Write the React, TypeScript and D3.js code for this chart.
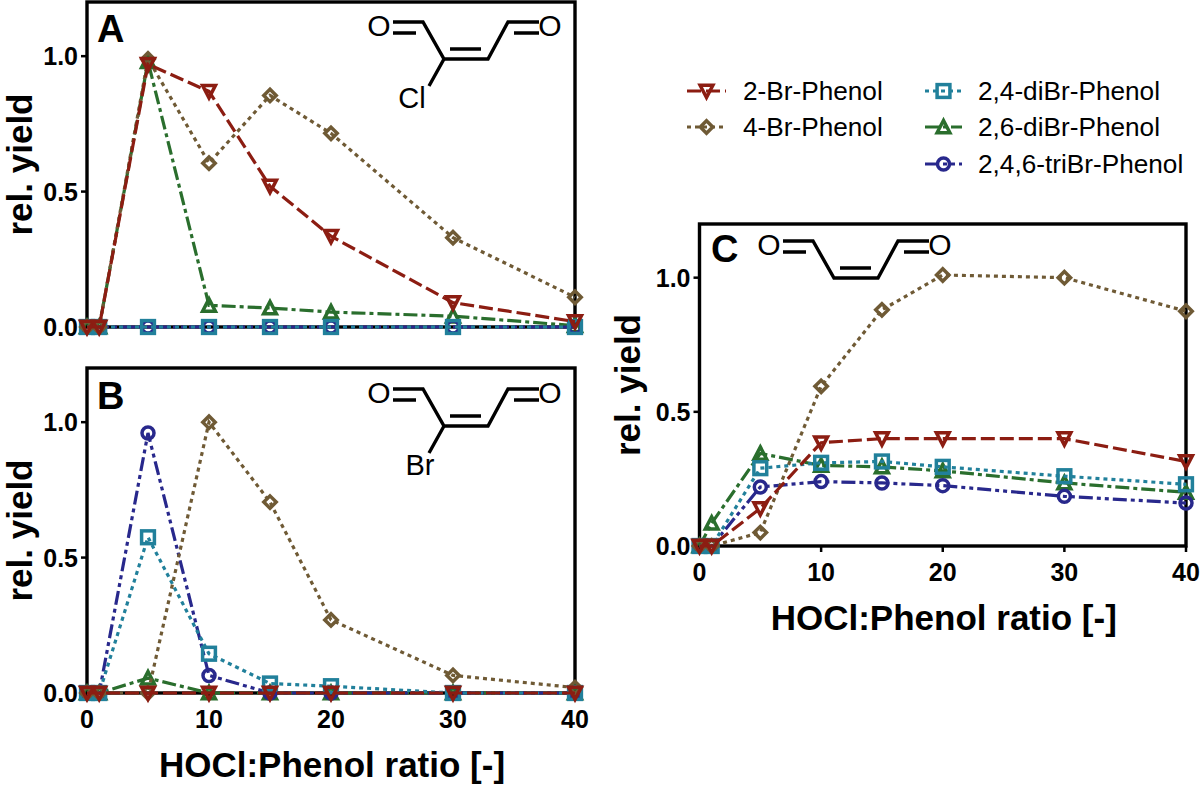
import React from "react";
import * as d3 from "d3";

const ratios = [0, 1, 5, 10, 15, 20, 30, 40];
const xTicks = [0, 10, 20, 30, 40];
const yTicks = [0, 0.5, 1];

const a2Br = [0, 0, 0.97, 0.87, 0.52, 0.335, 0.09, 0.02];
const a4Br = [0, 0, 0.99, 0.605, 0.855, 0.715, 0.33, 0.11];
const a24 = [0, 0, 0, 0, 0, 0, 0, 0];
const a26 = [0, 0, 0.98, 0.08, 0.07, 0.055, 0.04, 0.005];
const a246 = [0, 0, 0, 0, 0, 0, 0, 0];

const b2Br = [0, 0, 0, 0, 0, 0, 0, 0];
const b4Br = [0, 0, 0, 1, 0.705, 0.27, 0.065, 0.02];
const b24 = [0, 0, 0.575, 0.145, 0.035, 0.025, 0, 0];
const b26 = [0, 0, 0.055, 0, 0, 0, 0, 0];
const b246 = [0, 0, 0.96, 0.065, 0, 0, 0, 0];

const c2Br = [0, 0, 0.14, 0.385, 0.4, 0.4, 0.4, 0.315];
const c4Br = [0, 0, 0.05, 0.595, 0.88, 1.01, 1.0, 0.875];
const c24 = [0, 0, 0.29, 0.31, 0.315, 0.295, 0.26, 0.23];
const c26 = [0, 0.085, 0.345, 0.3, 0.295, 0.28, 0.235, 0.2];
const c246 = [0, 0, 0.22, 0.24, 0.235, 0.225, 0.185, 0.16];

type Key = "s2" | "s4" | "s24" | "s26" | "s246";
const STY: Record<Key, { name: string; color: string; dash: string; marker: string }> = {
  s2: { name: "2-Br-Phenol", color: "#8c1d12", dash: "14 5", marker: "tridown" },
  s4: { name: "4-Br-Phenol", color: "#6f5a35", dash: "4 4", marker: "diamond" },
  s24: { name: "2,4-diBr-Phenol", color: "#21809b", dash: "4 4", marker: "square" },
  s26: { name: "2,6-diBr-Phenol", color: "#2a6e2d", dash: "14 4 4 4", marker: "triup" },
  s246: { name: "2,4,6-triBr-Phenol", color: "#28288c", dash: "14 4 4 4 4 4", marker: "circle" },
};
const FONT = "'Liberation Sans', Arial, sans-serif";
const SW = 3.5;

function Marker({ kind, x, y, color }: { kind: string; x: number; y: number; color: string }) {
  const common = { fill: "none", stroke: color, strokeWidth: SW };
  const t = `translate(${x},${y})`;
  if (kind === "circle") return <circle cx={x} cy={y} r={6} {...common} />;
  if (kind === "square") return <rect x={x - 6.4} y={y - 6.4} width={12.8} height={12.8} {...common} />;
  if (kind === "diamond") return <path transform={t} d="M0,-6.2L6.2,0L0,6.2L-6.2,0Z" {...common} />;
  if (kind === "triup") return <path transform={t} d="M0,-6.5L6.4,5.8L-6.4,5.8Z" {...common} />;
  return <path transform={t} d="M-6.4,-5.8L6.4,-5.8L0,6.5Z" {...common} />;
}

function Panel({ left, right, top, zero, letter, lx, ly, xLabelY, series, children, order, ylx, showX }: any) {
  const x = d3.scaleLinear().domain([0, 40]).range([left, right]);
  const y = d3.scaleLinear().domain([0, 1.2]).range([zero, top]);
  const line = d3.line<number>().x((_, i) => x(ratios[i])).y((v) => y(v));
  return (
    <g>
      <rect x={left} y={top} width={right - left} height={zero - top} fill="none" stroke="#000" strokeWidth={3.4} />
      {showX && xTicks.map((t) => (
        <g key={t}>
          <line x1={x(t)} x2={x(t)} y1={zero} y2={zero + 6} stroke="#000" strokeWidth={2.5} />
          <text x={x(t)} y={zero + 35} textAnchor="middle" fontSize={25} fontWeight="bold" fontFamily={FONT}>{t}</text>
        </g>
      ))}
      {yTicks.map((t) => (
        <g key={t}>
          <line x1={left - 6} x2={left} y1={y(t)} y2={y(t)} stroke="#000" strokeWidth={2.5} />
          <text x={left - 9} y={y(t) + 9} textAnchor="end" fontSize={25} fontWeight="bold" fontFamily={FONT}>{t.toFixed(1)}</text>
        </g>
      ))}
      {order.map((k: Key) => (
        <g key={k}>
          <path d={line(series[k]) || ""} fill="none" stroke={STY[k].color} strokeWidth={3.2} strokeDasharray={STY[k].dash} />
          {series[k].map((v: number, i: number) => (
            <Marker key={i} kind={STY[k].marker} x={x(ratios[i])} y={y(v)} color={STY[k].color} />
          ))}
        </g>
      ))}
      {xLabelY != null && (
        <text x={(left + right) / 2 + 1} y={xLabelY} textAnchor="middle" fontSize={35} fontWeight="bold" fontFamily={FONT}>HOCl:Phenol ratio [-]</text>
      )}
      <text transform={`translate(${ylx},${y(0.6)}) rotate(-90)`} textAnchor="middle" fontSize={35} fontWeight="bold" fontFamily={FONT}>rel. yield</text>
      <text x={lx} y={ly} fontSize={38} fontWeight="bold" fontFamily={FONT}>{letter}</text>
      {children}
    </g>
  );
}

function Sub({ dx = 0, dy, label, lx }: { dx?: number; dy: number; label?: string; lx?: number }) {
  const s = { stroke: "#000", strokeWidth: 3.4, fill: "none", strokeLinejoin: "miter" as const };
  return (
    <g transform={`translate(${dx},${dy})`}>
      <path d="M393,22H423L444,59H488L508,22H539" {...s} />
      <path d={`M393,33H416M450,49H481M514,33H539${label ? "M444,59L429,86" : ""}`} {...s} />
      <text x={379} y={36} textAnchor="middle" fontSize={30} fontFamily={FONT}>O</text>
      <text x={550} y={36} textAnchor="middle" fontSize={30} fontFamily={FONT}>O</text>
      {label && <text x={lx} y={108} textAnchor="middle" fontSize={29} fontFamily={FONT}>{label}</text>}
    </g>
  );
}

export default function App() {
  const order: Key[] = ["s26", "s246", "s24", "s4", "s2"];
  const cols: { key: Key; hx: number; hw: number; tx: number; y: number }[] = [
    { key: "s2", hx: 687, hw: 39, tx: 743, y: 91 },
    { key: "s4", hx: 687, hw: 39, tx: 743, y: 127 },
    { key: "s24", hx: 925, hw: 37, tx: 978, y: 91 },
    { key: "s26", hx: 925, hw: 37, tx: 978, y: 127 },
    { key: "s246", hx: 925, hw: 37, tx: 978, y: 164 },
  ];
  return (
    <svg width={1200} height={785} style={{ position: "absolute", left: 0, top: 0, background: "#fff" }}>
      <Panel left={87} right={575} top={2} zero={327} letter="A" lx={97} ly={42} ylx={32} order={order}
        series={{ s2: a2Br, s4: a4Br, s24: a24, s26: a26, s246: a246 }}>
        <Sub dy={0} label="Cl" lx={412} />
      </Panel>
      <Panel left={87} right={575} top={368} zero={693} letter="B" lx={97} ly={409} ylx={32} xLabelY={777} showX order={order}
        series={{ s2: b2Br, s4: b4Br, s24: b24, s26: b26, s246: b246 }}>
        <Sub dy={367} label="Br" lx={420} />
      </Panel>
      <Panel left={699.5} right={1186} top={224} zero={546} letter="C" lx={711} ly={262} ylx={640} xLabelY={630} showX order={order}
        series={{ s2: c2Br, s4: c4Br, s24: c24, s26: c26, s246: c246 }}>
        <Sub dx={390} dy={219} />
      </Panel>
      {cols.map((c) => (
        <g key={c.key}>
          <line x1={c.hx} x2={c.hx + c.hw} y1={c.y} y2={c.y} stroke={STY[c.key].color} strokeWidth={3.2} strokeDasharray={STY[c.key].dash} />
          <Marker kind={STY[c.key].marker} x={c.hx + c.hw / 2} y={c.y} color={STY[c.key].color} />
          <text x={c.tx} y={c.y + 9} fontSize={26.2} fontFamily={FONT}>{STY[c.key].name}</text>
        </g>
      ))}
    </svg>
  );
}
